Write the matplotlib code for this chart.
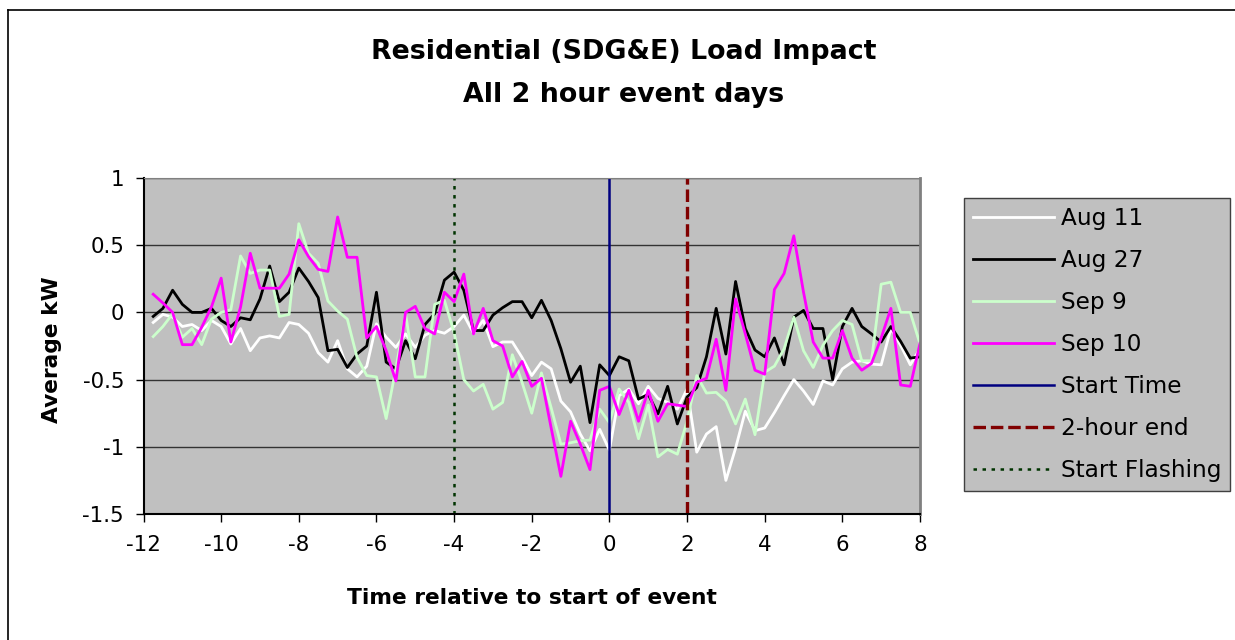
import numpy as np
import matplotlib
matplotlib.use('Agg')
import matplotlib.pyplot as plt
from matplotlib.lines import Line2D

plt.rcParams['font.family'] = 'DejaVu Sans'
plt.rcParams['axes.unicode_minus'] = False
plt.rcParams['lines.scale_dashes'] = False

# Time relative to start of event (15 minute intervals)
hours = np.arange(-11.75, 8.01, 0.25)

aug11 = [-0.075, -0.015, -0.035, -0.105, -0.09, -0.135, -0.06, -0.105, -0.235, -0.12,
         -0.285, -0.19, -0.175, -0.19, -0.075, -0.09, -0.155, -0.3, -0.37, -0.21,
         -0.42, -0.48, -0.40, -0.085, -0.185, -0.26, -0.16, -0.26, -0.17, -0.135,
         -0.155, -0.105, -0.02, -0.155, -0.06, -0.255, -0.22, -0.22, -0.335, -0.47,
         -0.37, -0.42, -0.66, -0.74, -0.905, -1.03, -0.87, -1.025, -0.62, -0.57,
         -0.68, -0.55, -0.64, -0.67, -0.72, -0.57, -1.04, -0.905, -0.85, -1.25,
         -1.01, -0.735, -0.88, -0.86, -0.745, -0.62, -0.50, -0.585, -0.685, -0.51,
         -0.54, -0.42, -0.37, -0.36, -0.385, -0.39, -0.12, -0.245, -0.39, -0.27]

aug27 = [-0.03, 0.03, 0.165, 0.06, 0.0, 0.0, 0.03, -0.06, -0.105, -0.04,
         -0.055, 0.10, 0.345, 0.08, 0.15, 0.33, 0.23, 0.11, -0.285, -0.275,
         -0.41, -0.31, -0.25, 0.15, -0.37, -0.42, -0.21, -0.345, -0.09, -0.01,
         0.24, 0.30, 0.165, -0.135, -0.135, -0.02, 0.035, 0.08, 0.08, -0.04,
         0.09, -0.06, -0.27, -0.52, -0.40, -0.82, -0.39, -0.47, -0.33, -0.36,
         -0.645, -0.61, -0.755, -0.55, -0.83, -0.63, -0.56, -0.33, 0.03, -0.31,
         0.23, -0.12, -0.28, -0.33, -0.19, -0.39, -0.035, 0.015, -0.12, -0.12,
         -0.50, -0.105, 0.03, -0.105, -0.16, -0.22, -0.105, -0.215, -0.34, -0.33]

sep9 = [-0.18, -0.105, -0.01, -0.185, -0.12, -0.24, -0.05, 0.0, 0.02, 0.42,
        0.29, 0.315, 0.315, -0.03, -0.015, 0.66, 0.44, 0.365, 0.085, 0.01,
        -0.05, -0.335, -0.47, -0.48, -0.79, -0.42, -0.01, -0.48, -0.48, 0.06,
        0.09, -0.15, -0.5, -0.585, -0.535, -0.72, -0.67, -0.315, -0.52, -0.75,
        -0.45, -0.71, -0.98, -0.97, -0.955, -0.95, -0.72, -0.82, -0.57, -0.67,
        -0.94, -0.69, -1.075, -1.02, -1.055, -0.81, -0.47, -0.6, -0.595, -0.66,
        -0.83, -0.645, -0.91, -0.445, -0.40, -0.27, -0.035, -0.285, -0.41, -0.245,
        -0.135, -0.06, -0.09, -0.36, -0.36, 0.21, 0.225, 0.0, 0.0, -0.235]

sep10 = [0.135, 0.07, 0.0, -0.24, -0.24, -0.11, 0.04, 0.255, -0.22, 0.04,
         0.44, 0.18, 0.18, 0.18, 0.285, 0.54, 0.415, 0.32, 0.305, 0.71,
         0.41, 0.41, -0.19, -0.105, -0.285, -0.51, 0.0, 0.045, -0.12, -0.16,
         0.15, 0.08, 0.285, -0.16, 0.03, -0.21, -0.25, -0.48, -0.365, -0.55,
         -0.49, -0.86, -1.22, -0.81, -0.98, -1.17, -0.58, -0.55, -0.76, -0.58,
         -0.81, -0.58, -0.81, -0.68, -0.69, -0.70, -0.52, -0.49, -0.20, -0.58,
         0.10, -0.16, -0.43, -0.46, 0.17, 0.29, 0.57, 0.15, -0.22, -0.34,
         -0.34, -0.135, -0.34, -0.43, -0.38, -0.19, 0.03, -0.54, -0.55, -0.23]

start_time = 0
end_2hr = 2
start_flash = -4

fig = plt.figure(figsize=(12.35, 6.4), dpi=100)
ax = fig.add_axes([143.5 / 1235, 1 - 514 / 640, (920 - 143.5) / 1235, (514 - 178) / 640])
ax.set_facecolor('#C0C0C0')

ax.plot(hours, aug11, color='white', lw=2, label='Aug 11')
ax.plot(hours, aug27, color='black', lw=2, label='Aug 27')
ax.plot(hours, sep9, color='#CCFFCC', lw=2, label='Sep 9')
ax.plot(hours, sep10, color='#FF00FF', lw=2, label='Sep 10')
ax.axvline(start_time, color='#000080', lw=1.8, label='Start Time')
ax.axvline(end_2hr, color='#800000', lw=2.4, dashes=(9, 3.5), label='2-hour end')
ax.axvline(start_flash, color='#003300', lw=1.8, dashes=(2.5, 4), label='Start Flashing')

ax.set_xlim(-12, 8)
ax.set_ylim(-1.5, 1)
ax.set_xticks(range(-12, 9, 2))
ax.set_yticks([1, 0.5, 0, -0.5, -1, -1.5])
ax.set_yticklabels(['1', '0.5', '0', '-0.5', '-1', '-1.5'])
ax.yaxis.grid(True, color='#333333', lw=1)
ax.set_axisbelow(True)
ax.tick_params(axis='both', direction='out', length=6, width=1, labelsize=15.4, color='black')
ax.tick_params(axis='x', pad=9)
ax.tick_params(axis='y', pad=8)
for side in ['top', 'right']:
    ax.spines[side].set_color('#808080')
ax.spines['right'].set_linewidth(2)
ax.spines['left'].set_linewidth(1.5)
ax.spines['bottom'].set_linewidth(1.5)

fig.text(624 / 1235, 1 - 52 / 640, 'Residential (SDG&E) Load Impact', ha='center', va='center',
         fontsize=19.4, fontweight='bold')
fig.text(624 / 1235, 1 - 95 / 640, 'All 2 hour event days', ha='center', va='center',
         fontsize=19.4, fontweight='bold')
fig.text(532 / 1235, 1 - 598 / 640, 'Time relative to start of event', ha='center', va='center',
         fontsize=15.7, fontweight='bold')
fig.text(52 / 1235, 1 - 350 / 640, 'Average kW', ha='center', va='center', rotation=90,
         fontsize=15.7, fontweight='bold')

leg = ax.legend(loc='upper left', bbox_to_anchor=(964 / 1235, 1 - 198 / 640),
                bbox_transform=fig.transFigure, fontsize=16.7, frameon=True, fancybox=False,
                facecolor='#C0C0C0', edgecolor='#404040', framealpha=1,
                handlelength=3.5, handletextpad=0.3, labelspacing=0.82, borderpad=0.38,
                borderaxespad=0)
leg.get_frame().set_linewidth(1)

# chart area border (left and top edges visible)
fig.add_artist(Line2D([8 / 1235, 8 / 1235], [0, 1 - 10 / 640], color='black', lw=1.2,
                      transform=fig.transFigure))
fig.add_artist(Line2D([8 / 1235, 1], [1 - 10 / 640, 1 - 10 / 640], color='black', lw=1.2,
                      transform=fig.transFigure))

fig.savefig('out.png', dpi=100)
